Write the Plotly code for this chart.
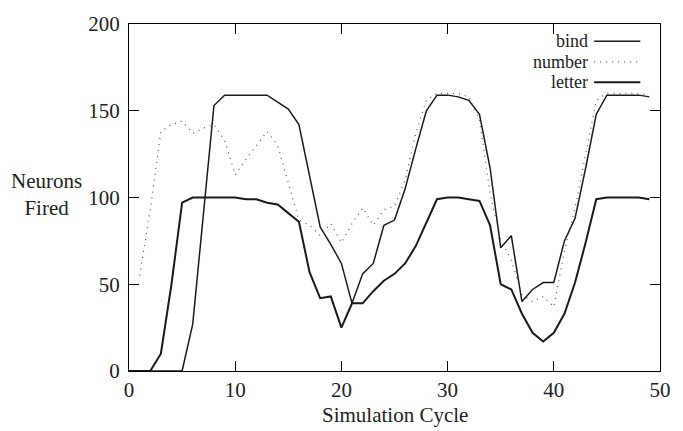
import plotly.graph_objects as go

cycles = list(range(50))
bind = [0, 0, 0, 0, 0, 0, 27, 90, 153, 159,
        159, 159, 159, 159, 155, 151, 142, 113, 83, 73,
        62, 39, 56, 62, 84, 87, 105, 128, 150, 159,
        159, 158, 156, 148, 117, 71, 78, 40, 47, 51,
        51, 75, 88, 117, 148, 159, 159, 159, 159, 158]
number = [None, 55, 93, 138, 142, 144, 137, 140, 142, 133,
          113, 122, 130, 138, 130, 108, 87, 84, 78, 85,
          74, 85, 94, 84, 93, 95, 110, 137, 156, 160,
          160, 160, 158, 145, 102, 76, 64, 44, 40, 43,
          37, 69, 94, 124, 156, 160, 160, 160, 160, 159]
letter = [0, 0, 0, 10, 50, 97, 100, 100, 100, 100,
          100, 99, 99, 97, 96, 91, 86, 57, 42, 43,
          25, 39, 39, 46, 52, 56, 62, 72, 85, 99,
          100, 100, 99, 98, 84, 50, 47, 33, 22, 17,
          22, 33, 51, 74, 99, 100, 100, 100, 100, 99]
x_ticks = [0, 10, 20, 30, 40, 50]
y_ticks = [0, 50, 100, 150, 200]
legend_names = ["bind", "number", "letter"]

FONT = "Liberation Serif"
FS = 21
LEG_FS = 18
TXT = "#222222"

fig = go.Figure()
fig.add_trace(go.Scatter(x=cycles, y=bind, mode="lines", name="bind",
                         line=dict(color="#1a1a1a", width=1.5)))
fig.add_trace(go.Scatter(x=cycles, y=number, mode="lines", name="number",
                         line=dict(color="#555555", width=1.2, dash="1px,5px")))
fig.add_trace(go.Scatter(x=cycles, y=letter, mode="lines", name="letter",
                         line=dict(color="#1a1a1a", width=2)))

axis_common = dict(showline=True, linecolor="black", linewidth=1.2, mirror="allticks",
                   ticks="inside", ticklen=10, tickwidth=1, tickcolor="black",
                   showgrid=False, zeroline=False,
                   tickfont=dict(family=FONT, size=FS, color=TXT))
fig.update_xaxes(range=[0, 50], tickvals=x_ticks, **axis_common)
fig.update_yaxes(range=[0, 200], tickvals=y_ticks, ticklabelstandoff=4, **axis_common)

annotations = [
    dict(text="Neurons<br>Fired", xref="paper", yref="paper", x=-0.155, y=0.509,
         showarrow=False, xanchor="center", yanchor="middle",
         font=dict(family=FONT, size=FS, color=TXT)),
    dict(text="Simulation Cycle", xref="paper", yref="paper", x=0.5, y=-0.127,
         showarrow=False, xanchor="center", yanchor="middle",
         font=dict(family=FONT, size=FS, color=TXT)),
]
shapes = []
leg_y = [0.950, 0.891, 0.832]
leg_styles = [dict(color="#1a1a1a", width=1.5), dict(color="#555555", width=1.2, dash="1px,5px"),
              dict(color="#1a1a1a", width=2)]
for name, yy, st in zip(legend_names, leg_y, leg_styles):
    annotations.append(dict(text=name, xref="paper", yref="paper", x=0.868, y=yy,
                            showarrow=False, xanchor="right", yanchor="middle",
                            font=dict(family=FONT, size=LEG_FS, color=TXT)))
    shapes.append(dict(type="line", xref="paper", yref="paper", x0=0.876, x1=0.963,
                       y0=yy, y1=yy, line=st))

fig.update_layout(width=683, height=431, margin=dict(l=129, r=15, t=16, b=60),
                  paper_bgcolor="white", plot_bgcolor="white", showlegend=False,
                  annotations=annotations, shapes=shapes)

fig.write_html("out.html", config={"displayModeBar": False},
               post_script="document.body.style.margin='0';")
